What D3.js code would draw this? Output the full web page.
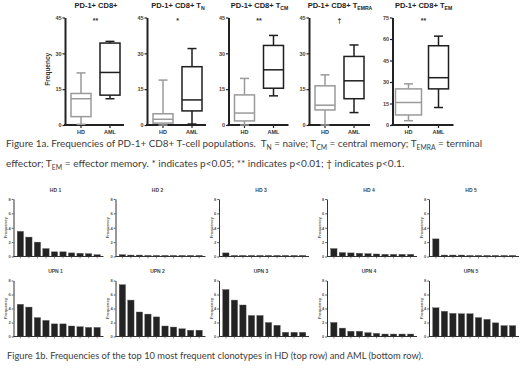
<!DOCTYPE html>
<html>
<head>
<meta charset="utf-8">
<script src="https://cdn.jsdelivr.net/npm/d3@7"></script>
<style>
  body { margin: 0; background: #fff; }
  svg { display: block; }
</style>
</head>
<body>
<script>
// ---- figure 1a: box plots ----
const subsets = ["", "N", "CM", "EMRA", "EM"];
const groups = ["HD", "AML"];
const sigMarks = ["**", "*", "**", "\u2020", "**"];
const yMaxes = [45, 45, 45, 45, 75];
const yTicks = [[0, 15, 30, 45], [0, 15, 30, 45], [0, 15, 30, 45], [0, 15, 30, 45], [0, 15, 30, 45, 60, 75]];
// [low whisker, q1, median, q3, high whisker]
const hdBoxes = [
  [0.3, 3.5, 11, 13.2, 21.8],
  [0, 0.8, 2.4, 4.7, 18.8],
  [0, 1.7, 5, 12.6, 19.5],
  [0, 6.3, 8.3, 16.4, 21],
  [3, 7, 15.7, 25.2, 28.7]
];
const amlBoxes = [
  [11, 12.5, 22, 34.3, 35],
  [0.4, 5.9, 10.5, 24.4, 32],
  [12.2, 15.4, 23.1, 33.3, 37.5],
  [5.2, 11, 18.5, 28.7, 33.5],
  [12.2, 25.2, 33, 55.3, 62]
];

// ---- figure 1b: top 10 clonotype frequencies ----
const hdLabels = ["HD 1", "HD 2", "HD 3", "HD 4", "HD 5"];
const hdFreqs = [
  [3.5, 2.7, 2.0, 1.1, 0.65, 0.65, 0.5, 0.45, 0.4, 0.25],
  [0.25, 0.2, 0.2, 0.15, 0.15, 0.15, 0.15, 0.15, 0.15, 0.15],
  [0.5, 0.15, 0.15, 0.15, 0.15, 0.15, 0.15, 0.15, 0.15, 0.15],
  [1.1, 0.55, 0.5, 0.45, 0.4, 0.35, 0.3, 0.3, 0.3, 0.3],
  [2.45, 0.2, 0.2, 0.2, 0.15, 0.15, 0.15, 0.15, 0.15, 0.15]
];
const upnLabels = ["UPN 1", "UPN 2", "UPN 3", "UPN 4", "UPN 5"];
const upnFreqs = [
  [4.6, 4.2, 2.7, 2.3, 1.8, 1.8, 1.5, 1.4, 1.3, 1.3],
  [7.4, 5.2, 3.5, 3.2, 2.8, 1.5, 1.35, 1.1, 0.9, 0.9],
  [6.7, 5.2, 4.5, 3.0, 3.0, 2.0, 1.6, 0.6, 0.6, 0.6],
  [2.0, 1.2, 0.75, 0.75, 0.55, 0.45, 0.35, 0.35, 0.35, 0.35],
  [4.1, 3.6, 3.3, 3.25, 3.25, 2.7, 2.45, 1.95, 1.55, 1.55]
];
const freqTicks = [0, 2, 4, 6, 8];

const captionA1 = [["Figure 1a. Frequencies of PD-1+ CD8+ T-cell populations.\u00a0 T"], ["N", 1], [" = naive; T"], ["CM", 1], [" = central memory; T"], ["EMRA", 1], [" = terminal"]];
const captionA2 = [["effector; T"], ["EM", 1], [" = effector memory. * indicates p<0.05; ** indicates p<0.01; \u2020 indicates p<0.1."]];
const captionB = [["Figure 1b. Frequencies of the top 10 most frequent clonotypes in HD (top row) and AML (bottom row)."]];

const width = 520, height = 372;
const svg = d3.select("body").append("svg")
  .attr("width", width).attr("height", height);

const chartFont = "'Liberation Sans', Arial, sans-serif";
const capFont = "Lato, 'Open Sans', sans-serif";

// text with subscript parts; parts = [[text, isSub], ...]
function richText(g, x, y, parts, fs, anchor) {
  const t = g.append("text").attr("x", x).attr("y", y)
    .attr("font-size", fs).attr("text-anchor", anchor || "start");
  let down = false;
  parts.forEach(p => {
    const sp = t.append("tspan").text(p[0]);
    if (p[1]) { sp.attr("font-size", fs * 0.68).attr("dy", fs * 0.3); down = true; }
    else if (down) { sp.attr("dy", -fs * 0.3); down = false; }
  });
  return t;
}

// fit caption lines to measured width from the picture
function caption(parts, x, y, endX) {
  let fs = 10;
  let t = richText(svg, x, y, parts, fs).attr("font-family", capFont);
  const w = t.node().getComputedTextLength();
  t.remove();
  fs = fs * (endX - x) / w;
  return richText(svg, x, y, parts, fs).attr("font-family", capFont).attr("fill", "#3c3c3c");
}

// ---- box plot panels ----
const panelX = [65, 147, 228.5, 309, 392.5];
const panelW = [59, 59, 60, 61, 61];
const yBot = 125, yTop = 17.5;

panelX.forEach((x0, i) => {
  const g = svg.append("g").attr("font-family", chartFont);
  const y = d3.scaleLinear().domain([0, yMaxes[i]]).range([yBot, yTop]);
  const xs = d3.scalePoint().domain(groups)
    .range(i === 4 ? [x0 + 16, x0 + 46] : [x0 + 16, x0 + 45]);

  const yAxis = d3.axisLeft(y).tickValues(yTicks[i]).tickSize(2.5).tickSizeOuter(0).tickPadding(1);
  const ya = g.append("g").attr("transform", `translate(${x0},0)`).call(yAxis);
  ya.select(".domain").attr("stroke", "#222").attr("stroke-width", 2);
  ya.selectAll(".tick line").attr("stroke", "#222").attr("stroke-width", 1.2);
  ya.selectAll(".tick text").attr("font-size", 5.5).attr("font-weight", "bold").attr("fill", "#444");

  // x axis
  g.append("line").attr("x1", x0 - 1).attr("x2", x0 + panelW[i])
    .attr("y1", yBot).attr("y2", yBot).attr("stroke", "#222").attr("stroke-width", 2);
  groups.forEach(k => {
    g.append("line").attr("x1", xs(k)).attr("x2", xs(k))
      .attr("y1", yBot).attr("y2", yBot + 3).attr("stroke", "#222").attr("stroke-width", 1.2);
    g.append("text").attr("x", xs(k)).attr("y", yBot + 9)
      .attr("text-anchor", "middle").attr("font-size", 5.5).attr("font-weight", "bold")
      .attr("fill", "#333").text(k);
  });

  // boxes
  [[hdBoxes[i], "HD", "#9a9a9a"], [amlBoxes[i], "AML", "#1e1e1e"]].forEach(([b, k, col]) => {
    const cx = xs(k);
    const bw = (i === 4 && k === "HD") ? 26 : 20;
    const cap = 9;
    const bx = g.append("g").attr("stroke", col).attr("stroke-width", 1.5).attr("fill", "none");
    bx.append("line").attr("x1", cx).attr("x2", cx).attr("y1", y(b[0])).attr("y2", y(b[1]));
    bx.append("line").attr("x1", cx).attr("x2", cx).attr("y1", y(b[3])).attr("y2", y(b[4]));
    bx.append("line").attr("x1", cx - cap / 2).attr("x2", cx + cap / 2).attr("y1", y(b[0])).attr("y2", y(b[0]));
    bx.append("line").attr("x1", cx - cap / 2).attr("x2", cx + cap / 2).attr("y1", y(b[4])).attr("y2", y(b[4]));
    bx.append("rect").attr("x", cx - bw / 2).attr("width", bw)
      .attr("y", y(b[3])).attr("height", y(b[1]) - y(b[3])).attr("fill", "#fff");
    bx.append("line").attr("x1", cx - bw / 2).attr("x2", cx + bw / 2).attr("y1", y(b[2])).attr("y2", y(b[2]));
  });

  // significance mark
  g.append("text").attr("x", (xs("HD") + xs("AML")) / 2).attr("y", 23)
    .attr("text-anchor", "middle").attr("font-size", 7).attr("font-weight", "bold")
    .attr("fill", "#333").text(sigMarks[i]);

  // title
  const parts = subsets[i] ? [["PD-1+ CD8+ T"], [subsets[i], 1]] : [["PD-1+ CD8+"]];
  richText(g, x0 + 31, 7.5, parts, 7.5, "middle")
    .attr("font-weight", "bold").attr("fill", "#222");

  if (i === 0) {
    g.append("text").attr("transform", `translate(50,${(yTop + yBot) / 2 - 2}) rotate(-90)`)
      .attr("text-anchor", "middle").attr("font-size", 6.5).attr("font-weight", "bold")
      .attr("fill", "#333").text("Frequency");
  }
});

// ---- clonotype bar charts ----
const miniX = [13.5, 115.5, 219, 327, 429];
const rows = [
  { labels: hdLabels, freqs: hdFreqs, y0: 256.5, y1: 199, ty: 191.5 },
  { labels: upnLabels, freqs: upnFreqs, y0: 336.5, y1: 280.5, ty: 272.5 }
];

rows.forEach(row => {
  miniX.forEach((x0, j) => {
    const vals = row.freqs[j];
    const g = svg.append("g").attr("font-family", chartFont);
    const x = d3.scaleBand().domain(d3.range(vals.length)).range([x0 + 1.5, x0 + 89]).padding(0.26);
    const y = d3.scaleLinear().domain([0, 8]).range([row.y0, row.y1]);

    g.selectAll("rect").data(vals).join("rect")
      .attr("x", (d, k) => x(k)).attr("width", x.bandwidth())
      .attr("y", d => y(d)).attr("height", d => row.y0 - y(d))
      .attr("fill", "#232323").attr("stroke", "#555").attr("stroke-width", 0.4);

    const ya = g.append("g").attr("transform", `translate(${x0},0)`)
      .call(d3.axisLeft(y).tickValues(freqTicks).tickSize(1.8).tickSizeOuter(0).tickPadding(1));
    ya.select(".domain").attr("stroke", "#333").attr("stroke-width", 1);
    ya.selectAll(".tick line").attr("stroke", "#333").attr("stroke-width", 0.8);
    ya.selectAll(".tick text").attr("font-size", 4).attr("font-weight", "bold").attr("fill", "#555");

    const xa = g.append("g").attr("transform", `translate(0,${row.y0})`)
      .call(d3.axisBottom(x).tickSize(1.8).tickSizeOuter(0).tickFormat(""));
    xa.select(".domain").attr("stroke", "#333").attr("stroke-width", 1)
      .attr("d", `M${x0},0H${x0 + 90}`);
    xa.selectAll(".tick line").attr("stroke", "#333").attr("stroke-width", 0.6);

    g.append("text").attr("x", x0 + 42).attr("y", row.ty)
      .attr("text-anchor", "middle").attr("font-size", 5).attr("font-weight", "bold")
      .attr("fill", "#444").text(row.labels[j]);

    g.append("text").attr("transform", `translate(${x0 - 6.5},${(row.y0 + row.y1) / 2}) rotate(-90)`)
      .attr("text-anchor", "middle").attr("font-size", 4.2).attr("font-weight", "bold")
      .attr("fill", "#555").text("Frequency");
  });
});

// ---- captions ----
caption(captionA1, 6, 147, 483);
caption(captionA2, 6, 167, 405);
caption(captionB, 7, 359, 424);
</script>
</body>
</html>
